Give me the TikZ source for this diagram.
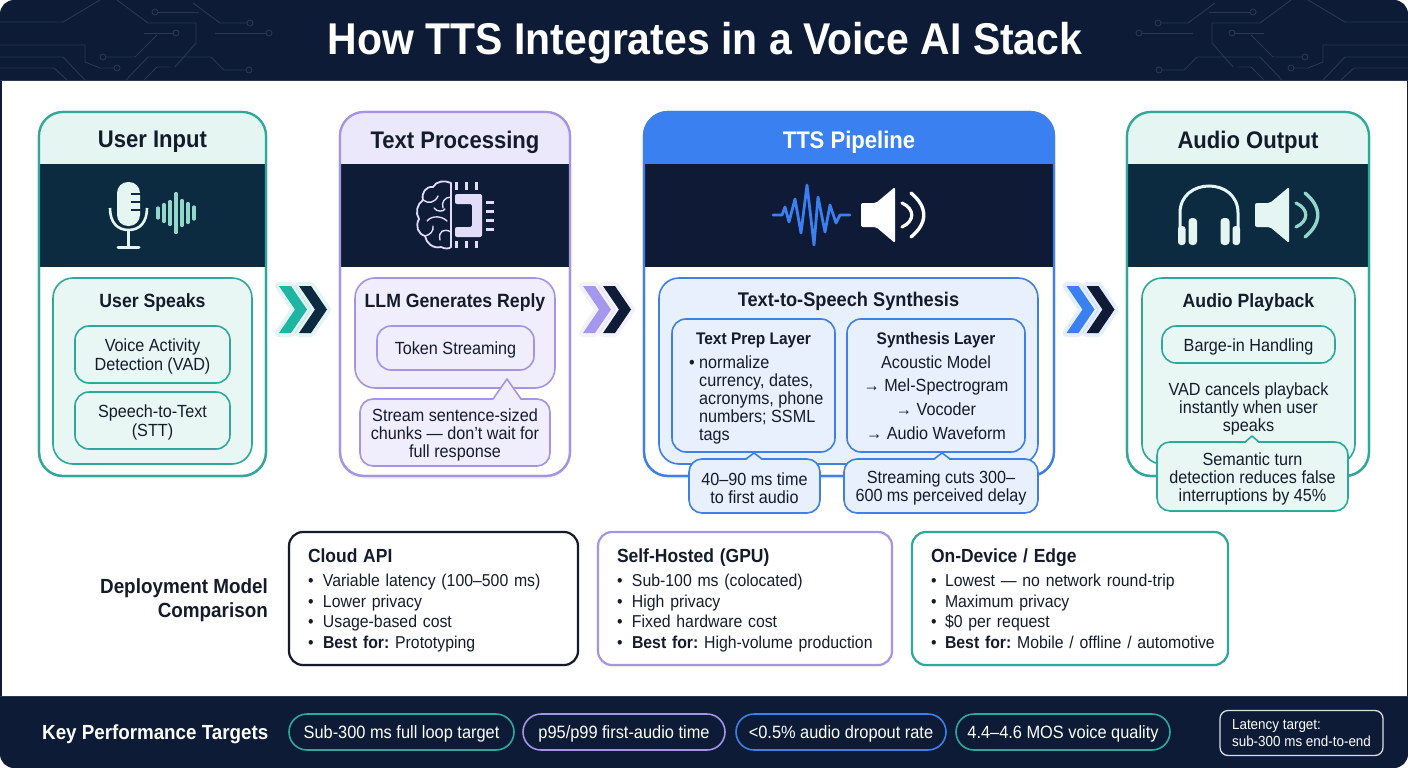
\documentclass[tikz,border=0pt]{standalone}
\usepackage{fontspec}
\setmainfont[FakeStretch=0.92]{Liberation Sans}
\usepackage{tikz}
\usetikzlibrary{positioning,calc,shadows}

\definecolor{navy}{HTML}{0D1B36}
\definecolor{ink}{HTML}{141C2C}
\definecolor{tracegrey}{HTML}{27384F}
\definecolor{tealrim}{HTML}{2FA89C}
\definecolor{tealhead}{HTML}{E4F5F2}
\definecolor{tealband}{HTML}{0C2B40}
\definecolor{tealpanel}{HTML}{E8F6F4}
\definecolor{tealarc}{HTML}{93D6CA}
\definecolor{tealchev}{HTML}{1FB5A3}
\definecolor{purprim}{HTML}{A594E4}
\definecolor{purphead}{HTML}{ECE8FB}
\definecolor{purpband}{HTML}{0E1C38}
\definecolor{purppanel}{HTML}{F0EDFC}
\definecolor{purpicon}{HTML}{E2DCF9}
\definecolor{purpchev}{HTML}{A597EE}
\definecolor{bluerim}{HTML}{3F80E6}
\definecolor{bluehead}{HTML}{3A80F0}
\definecolor{blueband}{HTML}{0E1A36}
\definecolor{bluepanel}{HTML}{E7F0FC}

\newcommand{\sz}[2]{\fontsize{#1}{#2}\selectfont}
\newcommand{\dotline}[2]{\mbox{\makebox[#1][l]{\textbullet}#2}}
\newcommand{\topstrut}{\rule{0pt}{17.5pt}}

\tikzset{
  cardnode/.style 2 args={draw=#1, fill=white, line width=2.2pt, rounded corners=24pt, inner sep=0pt, outer sep=0pt,
    minimum height=364pt, minimum width=#2,
    drop shadow={shadow xshift=0pt,shadow yshift=-3pt,opacity=.08}},
  panelnode/.style={draw=#1, line width=1.6pt, rounded corners=20pt, inner sep=0pt, outer sep=0pt, minimum height=186pt},
  boxnode/.style={draw=#1, line width=1.6pt, rounded corners=14pt, inner sep=0pt, outer sep=0pt, align=center, font=\sz{17.6}{19}},
  calloutnode/.style={draw=#1, line width=1.6pt, rounded corners=13pt, inner sep=0pt, outer sep=0pt, align=center, font=\sz{17.6}{18}},
  deploynode/.style={line width=2.2pt, rounded corners=14pt, fill=white, minimum height=133pt, inner xsep=19pt,
    inner ysep=0pt, outer sep=0pt, align=left, text width=#1, font=\sz{17.2}{20.5},
    drop shadow={shadow xshift=0pt,shadow yshift=-2pt,opacity=.08}},
  pillnode/.style={draw=#1, line width=1.6pt, rounded corners=18pt, minimum height=36pt, inner sep=0pt, outer sep=0pt,
    text=white, font=\sz{17.8}{19}},
  cardtitle/.style={font=\bfseries\sz{24}{26}},
  paneltitle/.style={font=\bfseries\sz{19.2}{22}},
  pics/chevronpair/.style 2 args={code={
    \draw[#1, line width=8pt, line join=round, opacity=.13] (-24,-23.5) -- (-12,-23.5) -- (4,0) -- (-12,23.5) -- (-24,23.5) -- (-8,0) -- cycle;
    \draw[#1, line width=8pt, line join=round, opacity=.13] (-4,-23.5) -- (8,-23.5) -- (24,0) -- (8,23.5) -- (-4,23.5) -- (12,0) -- cycle;
    \fill[#1] (-24,-23.5) -- (-12,-23.5) -- (4,0) -- (-12,23.5) -- (-24,23.5) -- (-8,0) -- cycle;
    \fill[#2] (-4,-23.5) -- (8,-23.5) -- (24,0) -- (8,23.5) -- (-4,23.5) -- (12,0) -- cycle;
  }},
  pics/speakericon/.style 2 args={code={
    \fill[#1, rounded corners=2pt] (0,-12) -- (15,-12) -- (34,-28) -- (34,28) -- (15,12) -- (0,12) -- cycle;
    \draw[#2, line width=3.2pt, line cap=round] (41,-12) .. controls (54,-6) and (54,6) .. (41,12);
    \draw[#2, line width=3.4pt, line cap=round] (50,-22) .. controls (67,-8) and (67,8) .. (50,22);
  }},
}

% header + dark band inside a card, then the rim again on top
\newcommand{\cardlayers}[4]{
  \begin{scope}
    \clip[rounded corners=24pt] (#1.north west) rectangle (#1.south east);
    \fill[#2] (#1.north west) rectangle ($(#1.north east)+(0,52)$);
    \fill[#3] ($(#1.north west)+(0,52)$) rectangle ($(#1.north east)+(0,155)$);
  \end{scope}
  \draw[#4, line width=2.2pt, rounded corners=24pt] (#1.north west) rectangle (#1.south east);
}
% little tip on top of a callout
\newcommand{\calltail}[5]{
  \fill[#4] ($(#2 |- #1.north)+(-#3,1.4)$) -- (#2) -- ($(#2 |- #1.north)+(#3,1.4)$) -- cycle;
  \draw[#5, line width=1.6pt, line join=round] ($(#2 |- #1.north)+(-#3,0)$) -- (#2) -- ($(#2 |- #1.north)+(#3,0)$);
}
\newcommand{\tracelines}{
  \foreach \run in {
    {(0,22) -- (63,22) -- (100,0)},
    {(117,0) -- (148,23) -- (196,23) -- (196,43) -- (175,67)},
    {(155,12) -- (199,12)},
    {(144,33) -- (176,33)},
    {(193,3) -- (220,23) -- (250,23)},
    {(215,33) -- (269,33)},
    {(0,45) -- (85,45) -- (85,62) -- (100,68) -- (117,68)},
    {(103,57) -- (135,57) -- (157,35)},
    {(0,57) -- (63,57) -- (85,80)},
    {(0,68) -- (54,68) -- (67,80)},
    {(126,80) -- (148,57) -- (211,57) -- (224,70) -- (247,70)},
    {(144,80) -- (157,67) -- (170,67)}}{
    \draw[tracegrey, line width=.9pt] \run;
  }
  \foreach \hole in {(155,12),(176,33),(250,23),(269,33),(117,68),(103,57),(249,70)}{
    \draw[tracegrey, line width=.9pt, fill=navy] \hole circle (3pt);
  }
}

\begin{document}
\frenchspacing
\begin{tikzpicture}[x=1pt,y=-1pt,every node/.append style={text=ink}]
\useasboundingbox (0,0) rectangle (1408,768);

%Frame
\fill[white] (0,0) rectangle (1408,768);
\fill[navy, rounded corners=14pt] (0,0) rectangle (1408,768);
\fill[white] (1.5,81) rectangle (1406.5,696);
\draw[tracegrey, line width=1pt] (0,80.5) -- (1408,80.5);
\draw[tracegrey, line width=1pt] (0,696.5) -- (1408,696.5);
\tracelines
\begin{scope}[xshift=1408pt,xscale=-1]
\tracelines
\end{scope}
\node[text=white, font=\bfseries\sz{44.5}{48}] (heading) at (705,43) {How TTS Integrates in a Voice AI Stack};

%Cards
\node[cardnode={tealrim}{227pt}] (userinput) at (152.5,294) {};
\node[cardnode={purprim}{230pt}] (textproc) at (455,294) {};
\node[cardnode={bluerim}{410pt}] (ttspipe) at (849,294) {};
\node[cardnode={tealrim}{242pt}] (audioout) at (1248,294) {};
\cardlayers{userinput}{tealhead}{tealband}{tealrim}
\cardlayers{textproc}{purphead}{purpband}{purprim}
\cardlayers{ttspipe}{bluehead}{blueband}{bluerim}
\cardlayers{audioout}{tealhead}{tealband}{tealrim}
\node[cardtitle] (userinputhead) at (152.5,142) {User Input};
\node[cardtitle] (textprochead) at (455,142) {Text Processing};
\node[cardtitle, text=white] (ttspipehead) at (849,142) {TTS Pipeline};
\node[cardtitle] (audiohead) at (1248,142) {Audio Output};

%Icons
% microphone
\fill[tealhead, rounded corners=11pt] (117,182) rectangle (140,226);
\foreach \slit in {194,202,210}{
  \fill[tealband] (131,\slit-1.2) rectangle (141,\slit+1.2);
}
\draw[tealhead, line width=2.6pt] (110,208) .. controls (110,222) and (117,230) .. (128.5,230) .. controls (140,230) and (147,222) .. (147,208);
\draw[tealhead, line width=2.6pt] (128.5,230) -- (128.5,246);
\draw[tealhead, line width=3pt, line cap=round] (118,247) -- (139,247);
\foreach \px/\half in {158/5,164/8.5,170/11.5,176/19.5,182/12.5,188/9.5,194/6}{
  \draw[tealarc, line width=3.2pt, line cap=round] (\px,213-\half) -- (\px,213+\half);
}
% brain and chip
\draw[purpicon, line width=1.8pt, line join=round] (451,183) .. controls (445,180) and (436,181) .. (433,187) .. controls (426,186) and (421,193) .. (423,200) .. controls (417,204) and (415,213) .. (419,219) .. controls (415,226) and (418,234) .. (425,236) .. controls (426,243) and (433,249) .. (441,247) .. controls (445,249) and (449,249) .. (451,247) -- cycle;
\draw[purpicon, line width=1.4pt, line cap=round]
  (451,197) .. controls (445,197) and (441,202) .. (443,208)
  (423,200) .. controls (428,204) and (435,203) .. (438,196)
  (427,221) .. controls (432,215) and (442,216) .. (447,221)
  (425,236) .. controls (430,235) and (434,231) .. (433,226)
  (451,232) .. controls (444,228) and (438,231) .. (440,240)
  (434,208) .. controls (437,212) and (443,212) .. (445,209);
\fill[purpicon, rounded corners=2pt] (455,194) -- (482,194) -- (482,237) -- (455,237) -- (455,227) -- (472,227) -- (472,204) -- (455,204) -- cycle;
\foreach \px in {456,466,476}{
  \fill[purpicon] (\px-1.5,182) rectangle (\px+1.5,190);
  \fill[purpicon] (\px-1.5,241) rectangle (\px+1.5,248);
}
\foreach \py in {202,211,220,229}{
  \fill[purpicon] (486,\py-1.5) rectangle (494,\py+1.5);
}
% wave and speaker
\draw[bluehead, line width=2.8pt, line join=round, line cap=round] plot coordinates {(773,215) (782,215) (785,207) (789,222) (795,199) (801,233) (807,185) (814,245) (818,197) (825,232) (830,205) (836,223) (840,215) (850,215)};
\pic at (861,215) {speakericon={white}{white}};
% headphones and speaker
\draw[tealhead, line width=3pt] (1180,232) -- (1180,213) .. controls (1180,177) and (1238,177) .. (1238,213) -- (1238,232);
\fill[tealhead, rounded corners=3pt] (1178,226) rectangle (1185.5,245);
\fill[tealhead, rounded corners=3pt] (1232.5,226) rectangle (1240,245);
\fill[tealhead, rounded corners=3.5pt] (1188.5,218) rectangle (1197,245);
\fill[tealhead, rounded corners=3.5pt] (1220.5,218) rectangle (1229.5,245);
\pic at (1255,215) {speakericon={tealhead}{tealarc}};

%Panels
\node[panelnode=tealrim, fill=tealpanel, minimum width=199pt] (userspeaks) at (152.5,371) {};
\node[paneltitle] (userspeakshead) at (152.5,303) {User Speaks};
\node[boxnode=tealrim, fill=tealpanel, minimum width=155pt, minimum height=57pt] (vad) at (152.5,354.5) {\topstrut Voice Activity\\Detection (VAD)};
\node[boxnode=tealrim, fill=tealpanel, minimum width=155pt, minimum height=57pt] (stt) [below=9pt of vad] {\topstrut Speech-to-Text\\(STT)};

\node[panelnode=purprim, fill=purppanel, minimum width=200pt, minimum height=110pt] (llm) at (455,333) {};
\node[paneltitle] (llmhead) at (455,303) {LLM Generates Reply};
\node[boxnode=purprim, fill=purppanel, minimum width=157pt, minimum height=44pt] (token) at (455.5,348) {\topstrut Token Streaming};
\node[calloutnode=purprim, fill=purppanel, minimum width=190pt, minimum height=67pt] (llmnote) at (455,432.5) {\topstrut Stream sentence-sized\\chunks --- don't wait for\\full response};
\coordinate (llmtip) at (507,379);
\calltail{llmnote}{llmtip}{14}{purppanel}{purprim}

\node[panelnode=bluerim, fill=bluepanel, minimum width=379pt] (synthesis) at (848.5,371) {};
\node[paneltitle, font=\bfseries\sz{19.8}{22}] (synthesishead) at (848.5,301) {Text-to-Speech Synthesis};
\node[boxnode=bluerim, fill=bluepanel, minimum width=163pt, minimum height=133pt] (prep) at (753.5,385.5) {};
\node[font=\bfseries\sz{16.8}{19}] (prephead) at (753.5,340) {Text Prep Layer};
\node[anchor=west, inner sep=0pt, align=left, font=\sz{17.6}{18}] (preptext) at (689,400) {\dotline{10pt}{normalize}\\\hspace*{10pt}currency, dates,\\\hspace*{10pt}acronyms, phone\\\hspace*{10pt}numbers; SSML\\\hspace*{10pt}tags};
\node[boxnode=bluerim, fill=bluepanel, minimum width=178pt, minimum height=133pt] (layer) [right=12pt of prep] {};
\node[font=\bfseries\sz{16.8}{19}] (layerhead) at (936,340) {Synthesis Layer};
\node[inner sep=0pt, align=center, font=\sz{17.6}{23.6}] (layertext) at (936,397.5) {Acoustic Model\\→ Mel-Spectrogram\\→ Vocoder\\→ Audio Waveform};
\node[calloutnode=bluerim, fill=bluepanel, minimum width=131pt, minimum height=54pt] (firstaudio) at (754.5,486) {\topstrut 40–90 ms time\\to first audio};
\node[calloutnode=bluerim, fill=bluepanel, minimum width=194pt, minimum height=54pt] (cutsdelay) at (941,486) {\topstrut Streaming cuts 300–\\600 ms perceived delay};
\coordinate (firsttip) at (754,453);
\coordinate (cutstip) at (942,453);
\calltail{firstaudio}{firsttip}{8}{bluepanel}{bluerim}
\calltail{cutsdelay}{cutstip}{8}{bluepanel}{bluerim}

\node[panelnode=tealrim, fill=tealpanel, minimum width=213pt] (playback) at (1248.5,371) {};
\node[paneltitle] (playbackhead) at (1248.5,303) {Audio Playback};
\node[boxnode=tealrim, fill=tealpanel, minimum width=173pt, minimum height=37pt] (barge) at (1248.5,344.5) {\topstrut Barge-in Handling};
\node[inner sep=0pt, align=center, font=\sz{17.6}{18}] (vadtext) at (1248.5,409) {VAD cancels playback\\instantly when user\\speaks};
\node[calloutnode=tealrim, fill=tealpanel, minimum width=191pt, minimum height=69pt] (turnnote) at (1252.5,476.5) {\topstrut Semantic turn\\detection reduces false\\interruptions by 45\%};
\coordinate (turntip) at (1252,436);
\calltail{turnnote}{turntip}{7}{tealpanel}{tealrim}

%Arrows
\pic at ($(userinput.east)!.5!(textproc.west)+(0,15.5)$) {chevronpair={tealchev}{tealband}};
\pic at ($(textproc.east)!.5!(ttspipe.west)+(0,15.5)$) {chevronpair={purpchev}{purpband}};
\pic at ($(ttspipe.east)!.5!(audioout.west)+(0,15.5)$) {chevronpair={bluehead}{blueband}};

%Deployment
\node[anchor=east, align=right, inner sep=0pt, font=\bfseries\sz{20.5}{24}] (deployhead) at (268,600) {Deployment Model\\Comparison};
\node[deploynode=251pt, draw=ink] (cloud) at (433.5,598.5) {\topstrut{\bfseries\sz{19}{20.5}Cloud API}\\[4pt]\dotline{15pt}{Variable latency (100–500 ms)}\\\dotline{15pt}{Lower privacy}\\\dotline{15pt}{Usage-based cost}\\\dotline{15pt}{\textbf{Best for:} Prototyping}};
\node[deploynode=256pt, draw=purprim] (selfhost) [right=20pt of cloud] {\topstrut{\bfseries\sz{19}{20.5}Self-Hosted (GPU)}\\[4pt]\dotline{15pt}{Sub-100 ms (colocated)}\\\dotline{15pt}{High privacy}\\\dotline{15pt}{Fixed hardware cost}\\\dotline{15pt}{\textbf{Best for:} High-volume production}};
\node[deploynode=278pt, draw=tealrim] (device) [right=20pt of selfhost] {\rule{0pt}{14pt}{\bfseries\sz{19}{20.5}On-Device / Edge}\\[4pt]\dotline{14pt}{Lowest --- no network round-trip}\\\dotline{14pt}{Maximum privacy}\\\dotline{14pt}{\$0 per request}\\\dotline{14pt}{\textbf{Best for:} Mobile / offline / automotive}};

%Targets
\node[text=white, font=\bfseries\sz{20.4}{23}, anchor=west, inner sep=0pt] (targets) at (42,734.5) {Key Performance Targets};
\node[pillnode=tealrim, minimum width=225pt] (looptarget) at (401.5,732) {\topstrut Sub-300 ms full loop target};
\node[pillnode=purprim, minimum width=202pt] (firstaudiotime) [right=9pt of looptarget] {\topstrut p95/p99 first-audio time};
\node[pillnode=bluerim, minimum width=210pt] (dropout) [right=11pt of firstaudiotime] {\topstrut <0.5\% audio dropout rate};
\node[pillnode=tealrim, minimum width=214pt] (mos) [right=10pt of dropout] {\topstrut 4.4–4.6 MOS voice quality};
\node[draw=white!85!navy, line width=1.3pt, rounded corners=8pt, text=white, align=left, inner xsep=9pt, inner ysep=0pt, minimum height=45pt, minimum width=163pt, font=\sz{14.6}{17}] (latency) at (1301.5,733) {Latency target:\\sub-300 ms end-to-end};
\end{tikzpicture}
\end{document}
